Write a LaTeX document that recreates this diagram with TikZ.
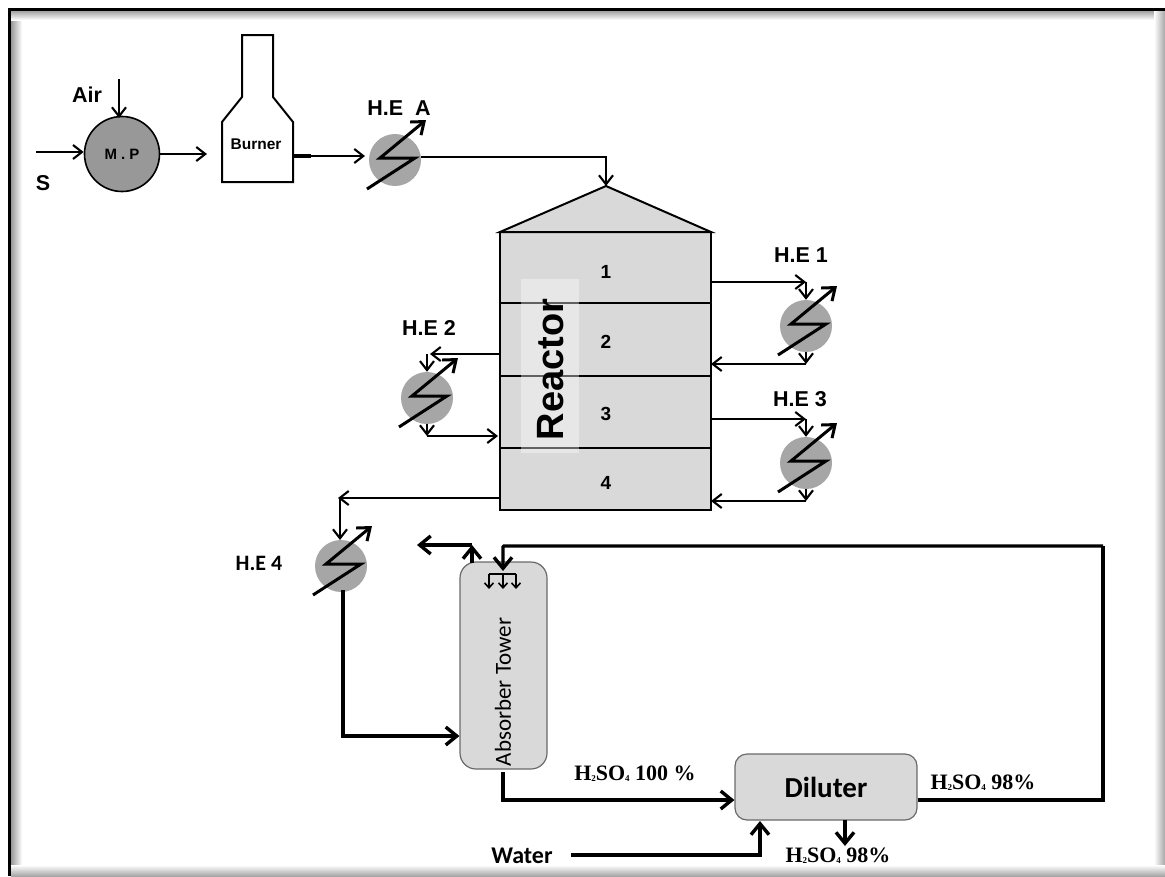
\documentclass[tikz,border=0pt]{standalone}
\usepackage{fontspec}
\setmainfont{Liberation Sans}
\newfontfamily\calfont{Carlito}
\newfontfamily\serfont{Liberation Serif}
\usetikzlibrary{arrows.meta,calc}
\tikzset{
  flow/.style={draw=black,line width=2.1pt,-{Straight Barb[length=9pt,width=14pt,line width=2.1pt]}},
  flowthick/.style={draw=black,line width=3.4pt,-{Straight Barb[length=11pt,width=18pt,line width=3.4pt]}},
  plainline/.style={draw=black,line width=3.4pt},
  small/.style={draw=black,line width=1.6pt,-{Straight Barb[length=5pt,width=9pt,line width=1.6pt]}},
  txt/.style={inner sep=0pt,font=\fontsize{21.5}{21.5}\selectfont\bfseries},
  num/.style={inner sep=0pt,font=\fontsize{19}{19}\selectfont\bfseries},
  eq/.style={draw=black,line width=2pt},
  vessel/.style={fill=vfill,draw=vedge,line width=1.2pt,rounded corners=16pt},
  exch/.style={circle,fill=hegray,minimum size=52pt,inner sep=0pt},
  zig/.style={draw=black,line width=3pt,-{Straight Barb[length=11pt,width=17pt,line width=3pt]}},
}
\definecolor{vfill}{HTML}{D9D9D9}
\definecolor{vedge}{HTML}{6A6A6A}
\definecolor{hegray}{HTML}{A6A6A6}
\definecolor{mpgray}{HTML}{989898}
\newcommand{\acid}[1]{{\serfont\bfseries H{\fontsize{9}{9}\selectfont\raisebox{-1pt}{2}}SO{\fontsize{9}{9}\selectfont\raisebox{-1pt}{4}}\ #1}}
\newcommand{\zigzag}[1]{%
  \draw[zig] ($(#1)+(-28,29)$) -- ($(#1)+(20,-2)$) -- ($(#1)+(-15,-2)$) -- ($(#1)+(31,-40)$);}
\begin{document}
\begin{tikzpicture}[x=1pt,y=-1pt]
\useasboundingbox (0,0) rectangle (1165,876);
% frame and its shadow
\fill[white] (0,0) rectangle (1165,876);
\shade[left color=gray!80,right color=white] (11,10) rectangle (22,876);
\shade[top color=gray!80,bottom color=white] (11,10) rectangle (1165,20);
\shade[left color=white,right color=gray!70] (1154,0) rectangle (1165,876);
\shade[top color=white,bottom color=gray!70] (11,865) rectangle (1165,876);
\fill[white] (0,0) rectangle (7.5,876);
\fill[white] (0,0) rectangle (1165,7.5);
\fill[black] (7.5,7.5) rectangle (11,876);
\fill[black] (7.5,7.5) rectangle (1165,10.5);

% --- process equipment ---
\node[circle,draw=black,line width=1.6pt,fill=mpgray,minimum size=75pt,inner sep=0pt,font=\fontsize{15}{15}\selectfont\bfseries] (mp) at (122,154) {M . P};
\draw[eq,fill=white] (222,182) -- (222,122) -- (242,97) -- (242,35) -- (273,35) -- (273,97) -- (293,122) -- (293,182) -- cycle;
\node[inner sep=0pt,font=\fontsize{15.5}{15.5}\selectfont\bfseries] (burner) at (256,144) {Burner};
\coordinate (burnerout) at (293,156);
\coordinate (burnerin) at (207,154);

\fill[vfill] (606,186) -- (711,232) -- (711,510) -- (500,510) -- (500,232) -- cycle;
\draw[eq] (500,232) -- (606,186) -- (711,232) -- cycle;
\draw[eq] (500,232) rectangle (711,510);
\draw[draw=black,line width=1.7pt] (500,303) -- (711,303);
\draw[draw=black,line width=1.7pt] (500,376) -- (711,376);
\draw[draw=black,line width=1.7pt] (500,448) -- (711,448);
\fill[white,opacity=.38] (521,279) rectangle (579,453);
\node[inner sep=0pt,rotate=90,font=\fontsize{38}{38}\selectfont\bfseries] (reactor) at (551,369.5) {Reactor};
\node[num] (n1) at (606,272) {1};
\node[num] (n2) at (606,342) {2};
\node[num] (n3) at (606,414) {3};
\node[num] (n4) at (606,483) {4};
\coordinate (apex) at (606,186);
\coordinate (r1out) at (711,282);
\coordinate (r1in) at (711,364);
\coordinate (r3out) at (711,419);
\coordinate (r3in) at (711,501);
\coordinate (r2out) at (500,354);
\coordinate (r2in) at (498,436);
\coordinate (r4out) at (500,498);

\node[exch] (hea) at (395,160) {};
\node[exch] (he1) at (806,326) {};
\node[exch] (he2) at (427,398) {};
\node[exch] (he3) at (806,463) {};
\node[exch] (he4) at (341,566) {};
\zigzag{hea}\zigzag{he1}\zigzag{he2}\zigzag{he3}\zigzag{he4}

\node[vessel,minimum width=87pt,minimum height=207pt,inner sep=0pt] (abs) at (503.5,665.5) {};
\node[rotate=90,inner sep=0pt,font=\calfont\fontsize{23}{23}\selectfont] (abslabel) at (503,692) {Absorber Tower};
\node[vessel,rounded corners=12pt,minimum width=182pt,minimum height=66pt,inner sep=0pt,font=\calfont\bfseries\fontsize{29}{29}\selectfont] (dil) at (826,787) {Diluter};

% --- labels ---
\node[txt] (air) at (87,95) {Air};
\node[txt] (s) at (43,183) {S};
\node[txt] (lha) at (399,108) {H.E\ \ A};
\node[txt] (lh1) at (801,255) {H.E 1};
\node[txt] (lh2) at (429,328) {H.E 2};
\node[txt] (lh3) at (800,399) {H.E 3};
\node[inner sep=0pt,font=\calfont\bfseries\fontsize{22}{22}\selectfont] (lh4) at (259,563) {H.E 4};
\node[inner sep=0pt,font=\fontsize{22}{22}\selectfont] (a100) at (635,774) {\acid{100 \%}};
\node[inner sep=0pt,font=\fontsize{22}{22}\selectfont] (a98r) at (983,783) {\acid{98\%}};
\node[inner sep=0pt,font=\fontsize{22}{22}\selectfont] (a98b) at (838,856) {\acid{98\%}};
\node[inner sep=0pt,font=\calfont\bfseries\fontsize{24}{24}\selectfont] (water) at (522,856) {Water};

% --- connectors ---
\coordinate (sin) at (36,152);
\coordinate (airin) at (119,79);
\draw[flow] (sin) -- (mp.west |- sin);
\draw[flow] (airin) -- (119,118);
\draw[flow] (mp.east) -- (burnerin);
\draw[plainline] (burnerout) -- (311,156);
\draw[flow] (burnerout) -- (365,156);
\draw[flow] (hea.east |- 0,157) -| (apex);

\coordinate (j1) at (806,282);
\draw[flow] (r1out) -- (j1);
\draw[flow] (j1) -- (he1.north);
\coordinate (j1b) at (806,364);
\draw[flow] (he1.south) -- (j1b);
\draw[flow] (j1b) -- (r1in);

\coordinate (j3) at (806,419);
\draw[flow] (r3out) -- (j3);
\draw[flow] (j3) -- (he3.north);
\coordinate (j3b) at (806,501);
\draw[flow] (he3.south) -- (j3b);
\draw[flow] (j3b) -- (r3in);

\coordinate (j2) at (430,354);
\draw[flow] (r2out) -- (j2);
\draw[flow] (427,354) -- (he2.north);
\coordinate (j2b) at (427,436);
\draw[flow] (he2.south) -- (j2b);
\draw[flow] (j2b) -- (r2in);

\coordinate (j4) at (338,498);
\draw[flow] (r4out) -- (j4);
\draw[flow] (340,498) -- (340,540);
\draw[flowthick] (343,590) |- (abs.west |- 0,736);

\coordinate (exitc) at (472,545);
\coordinate (exitl) at (417,545);
\draw[flowthick] (472,563) -- (exitc);
\draw[flowthick] (exitc) -- (exitl);

\coordinate (rc) at (1103,546);
\coordinate (inlet) at (503,571);
\draw[plainline,line join=miter] (dil.east |- 0,800) -| (rc);
\draw[flowthick,rounded corners=1pt] (rc) -| (inlet);

\coordinate (dl) at (489,589);
\coordinate (dm) at (503,589);
\coordinate (dr) at (516,589);
\draw[draw=black,line width=1.6pt] (489,574) -- (516,574);
\draw[small] (489,574) -- (dl);
\draw[small] (503,574) -- (dm);
\draw[small] (516,574) -- (dr);

\draw[flowthick] (503,772) |- (dil.west |- 0,800);
\draw[flowthick] (571,855) -| (760,821);
\draw[flowthick] (845,820) -- (845,846);
\end{tikzpicture}
\end{document}
